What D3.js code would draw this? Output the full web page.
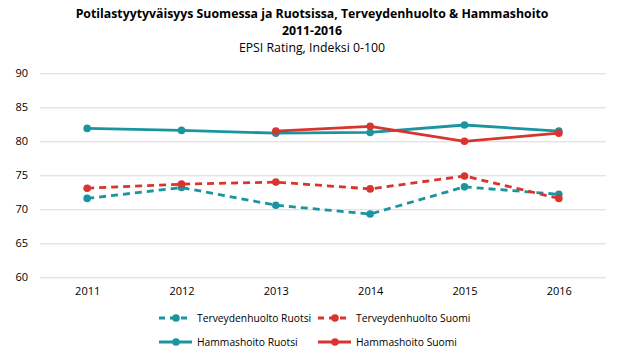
<!DOCTYPE html>
<html>
<head>
<meta charset="utf-8">
<script src="https://cdn.jsdelivr.net/npm/d3@7/dist/d3.min.js"></script>
<style>
  body { margin: 0; background: #fff; }
  text { font-family: "Open Sans", "Liberation Sans", sans-serif; fill: #000; }
</style>
</head>
<body>
<svg width="624" height="360"></svg>
<script>
var years = ["2011", "2012", "2013", "2014", "2015", "2016"];
var yTicks = [60, 65, 70, 75, 80, 85, 90];

var terveysRuotsi = [71.6, 73.2, 70.6, 69.3, 73.3, 72.2];
var terveysSuomi = [73.1, 73.7, 74.0, 73.0, 74.9, 71.6];
var hammasRuotsi = [81.9, 81.6, 81.2, 81.3, 82.4, 81.5];
var hammasSuomi = [null, null, 81.5, 82.2, 80.0, 81.2];

var seriesNames = ["Terveydenhuolto Ruotsi", "Terveydenhuolto Suomi", "Hammashoito Ruotsi", "Hammashoito Suomi"];

var teal = "#1a95a0", red = "#d9342e";

var series = [
  { name: seriesNames[0], values: terveysRuotsi, color: teal, dash: "7,5" },
  { name: seriesNames[1], values: terveysSuomi, color: red, dash: "7,5" },
  { name: seriesNames[2], values: hammasRuotsi, color: teal, dash: null },
  { name: seriesNames[3], values: hammasSuomi, color: red, dash: null }
];

var svg = d3.select("svg");

var x = d3.scalePoint()
    .domain(years)
    .range([40, 606])
    .padding(0.5);

var y = d3.scaleLinear()
    .domain([60, 90])
    .range([277.3, 73.3]);

// titles
svg.append("text").attr("x", 312).attr("y", 18).attr("text-anchor", "middle")
    .attr("font-size", 12.3).attr("font-weight", "bold")
    .text("Potilastyytyväisyys Suomessa ja Ruotsissa, Terveydenhuolto & Hammashoito");
svg.append("text").attr("x", 312).attr("y", 35).attr("text-anchor", "middle")
    .attr("font-size", 12.3).attr("font-weight", "bold").text("2011-2016");
svg.append("text").attr("x", 312).attr("y", 52).attr("text-anchor", "middle")
    .attr("font-size", 12.3).text("EPSI Rating, Indeksi 0-100");

// grid
var yAxis = d3.axisLeft(y)
    .tickValues(yTicks)
    .tickSize(-566)
    .tickPadding(12);

var gy = svg.append("g")
    .attr("transform", "translate(40,0)")
    .call(yAxis);
gy.select(".domain").remove();
gy.selectAll(".tick line").attr("stroke", "#d9d9d9").attr("stroke-width", 1);
gy.selectAll(".tick text").attr("font-size", 11).attr("fill", "#000")
    .style("font-family", "'Open Sans', sans-serif");

var xAxis = d3.axisBottom(x).tickSize(0).tickPadding(10);
var gx = svg.append("g")
    .attr("transform", "translate(0,277.3)")
    .call(xAxis);
gx.select(".domain").remove();
gx.selectAll(".tick text").attr("font-size", 11).attr("fill", "#000")
    .style("font-family", "'Open Sans', sans-serif");

var line = d3.line()
    .defined(function(d) { return d != null; })
    .x(function(d, i) { return x(years[i]); })
    .y(function(d) { return y(d); });

series.forEach(function(s) {
  svg.append("path")
      .datum(s.values)
      .attr("fill", "none")
      .attr("stroke", s.color)
      .attr("stroke-width", 2.8)
      .attr("stroke-dasharray", s.dash)
      .attr("d", line);
  svg.selectAll(null)
      .data(s.values.map(function(v, i) { return { v: v, i: i }; })
        .filter(function(d) { return d.v != null; }))
      .enter().append("circle")
      .attr("cx", function(d) { return x(years[d.i]); })
      .attr("cy", function(d) { return y(d.v); })
      .attr("r", 3.8)
      .attr("fill", s.color);
});

// legend
var legendPos = [[159, 318], [318, 318], [159, 342], [318, 342]];
series.forEach(function(s, i) {
  var g = svg.append("g").attr("transform", "translate(" + legendPos[i][0] + "," + legendPos[i][1] + ")");
  g.append("line").attr("x1", 0).attr("x2", 33).attr("y1", 0).attr("y2", 0)
      .attr("stroke", s.color).attr("stroke-width", 2.8)
      .attr("stroke-dasharray", s.dash ? "6,5" : null);
  g.append("circle").attr("cx", 17).attr("cy", 0).attr("r", 3.8).attr("fill", s.color);
  g.append("text").attr("x", 38).attr("y", 4).attr("font-size", 10.3).text(s.name);
});
</script>
</body>
</html>
